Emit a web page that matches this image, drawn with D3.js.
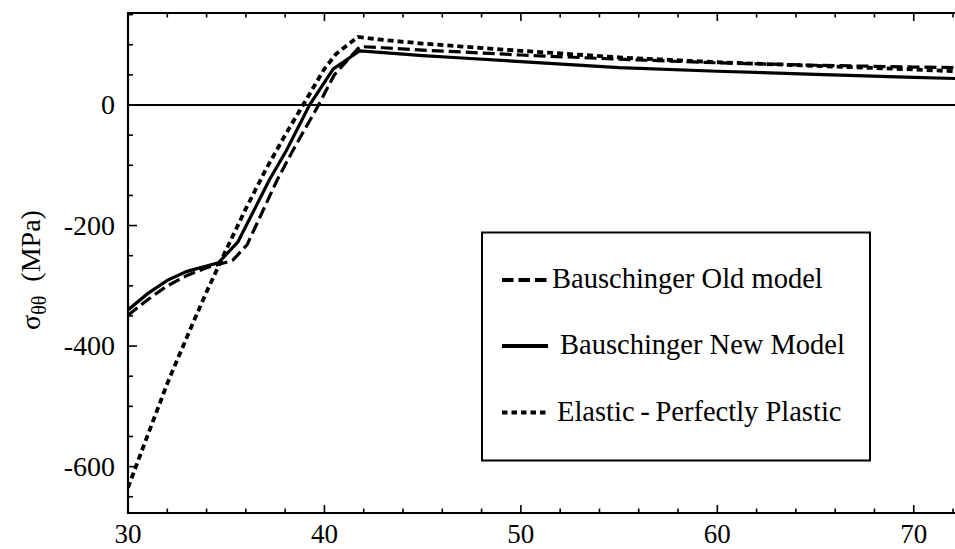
<!DOCTYPE html>
<html><head><meta charset="utf-8">
<script src="https://cdn.jsdelivr.net/npm/d3@7"></script>
<style>
html,body{margin:0;padding:0;background:#fff;}
</style></head>
<body><svg id="c" width="955" height="549"></svg>
<script>
// ---- data ----
const oldX = [30,31,32,33,34,35,35.35,36.06,37.6,38.4,39.7,40.5,41.8,43,45,47,50,55,60,65,70,72.1];
const oldY = [-349,-323,-300,-283,-270,-261,-257,-232,-124,-75,0,50,97,95,91,88,83,76,70,66,63,62];
const newX = [30,31,32,33,34,34.6,35.6,37.2,38.07,39.24,40.45,41.8,43,45,47,50,55,60,65,70,72.1];
const newY = [-340,-313,-291,-276,-267,-262,-227,-124,-75,0,60,90,87,82,78,72,62,56,51,46,44];
const eppX = [30,31,32,33,34,35,36,37,38,39,40,40.6,41.7,43,45,47,50,55,60,65,70,72.1];
const eppY = [-635,-548,-462,-385,-310,-240,-172,-108,-50,5,60,85,113,108,102,97,90,79,71,65,59,56];
const xTicks = [30,40,50,60,70];
const yTicks = [-600,-400,-200,0];
const legendLabels = ["Bauschinger Old model","Bauschinger New Model","Elastic\u2009-\u2009Perfectly Plastic"];

const FONT = "'Liberation Serif','Times New Roman','DejaVu Serif',serif";
const svg = d3.select("#c");
const L=128, R=955, T=13, B=513;
const x = d3.scaleLinear().domain([30,72.1]).range([L,R]);
const y = d3.scaleLinear().domain([-677,152.7]).range([B,T]);

// ticks
const g = svg.append("g");
const xMinor = d3.range(30,73,2);
const yMinor = d3.range(-650,151,50);
xMinor.forEach(v=>{
  const len = (v%10===0)?8:4.5;
  g.append("line").attr("x1",x(v)).attr("x2",x(v)).attr("y1",B).attr("y2",B-len).attr("stroke","#000").attr("stroke-width",1.6);
  g.append("line").attr("x1",x(v)).attr("x2",x(v)).attr("y1",T).attr("y2",T+len).attr("stroke","#000").attr("stroke-width",1.6);
});
yMinor.forEach(v=>{
  const len = (v%200===0)?9:5;
  g.append("line").attr("x1",L).attr("x2",L+len).attr("y1",y(v)).attr("y2",y(v)).attr("stroke","#000").attr("stroke-width",1.6);
});
// axis lines
g.append("line").attr("x1",L).attr("x2",R+5).attr("y1",B).attr("y2",B).attr("stroke","#000").attr("stroke-width",2.2);
g.append("line").attr("x1",L).attr("x2",R+5).attr("y1",T).attr("y2",T).attr("stroke","#000").attr("stroke-width",2.2);
g.append("line").attr("x1",L).attr("x2",L).attr("y1",T-1).attr("y2",B+1).attr("stroke","#000").attr("stroke-width",2.2);
// zero line
g.append("line").attr("x1",L).attr("x2",R).attr("y1",y(0)).attr("y2",y(0)).attr("stroke","#000").attr("stroke-width",2);

// tick labels
xTicks.forEach(v=>{
  svg.append("text").attr("x",x(v)).attr("y",542.5).attr("text-anchor","middle")
    .attr("font-family",FONT).attr("font-size",27).text(v);
});
yTicks.forEach(v=>{
  svg.append("text").attr("x",115).attr("y",y(v)+9).attr("text-anchor","end")
    .attr("font-family",FONT).attr("font-size",28).text(v===0?"0":("-"+Math.abs(v)));
});

// y label
const yl = svg.append("text").attr("transform","translate(40,270) rotate(-90)").attr("text-anchor","middle")
  .attr("font-family",FONT).attr("font-size",28);
yl.append("tspan").text("\u03c3");
yl.append("tspan").attr("font-size",20).attr("dy",6).text("\u03b8\u03b8");
yl.append("tspan").attr("dy",-6).text("\u2002(MPa)");

// lines
const line = d3.line().x(d=>x(d[0])).y(d=>y(d[1]));
svg.append("clipPath").attr("id","pc").append("rect").attr("x",L).attr("y",T).attr("width",R-L+5).attr("height",B-T);
const series = [
  {xs:oldX, ys:oldY, dash:"12,5", w:3.2},
  {xs:newX, ys:newY, dash:null, w:3.2},
  {xs:eppX, ys:eppY, dash:"6,4", w:3.8}
];
series.forEach(s=>{
  const p = svg.append("path").attr("clip-path","url(#pc)")
    .attr("d", line(s.xs.map((v,i)=>[v,s.ys[i]])))
    .attr("fill","none").attr("stroke","#000").attr("stroke-width",s.w).attr("stroke-linejoin","miter");
  if(s.dash) p.attr("stroke-dasharray",s.dash);
});

// legend
svg.append("rect").attr("x",482).attr("y",232.5).attr("width",388).attr("height",228).attr("fill","#fff").attr("stroke","#000").attr("stroke-width",2);
const ly=[280,346,412.5], tx=[552,560,557];
series.forEach((s,i)=>{
  const l = svg.append("line").attr("x1",502).attr("x2",548).attr("y1",ly[i]).attr("y2",ly[i]).attr("stroke","#000").attr("stroke-width",3.8);
  if(s.dash) l.attr("stroke-dasharray", i===0?"11.5,5":"5.5,4");
  svg.append("text").attr("x",tx[i]).attr("y",ly[i]+8).attr("font-family",FONT).attr("font-size",28.5).text(legendLabels[i]);
});
</script></body></html>
